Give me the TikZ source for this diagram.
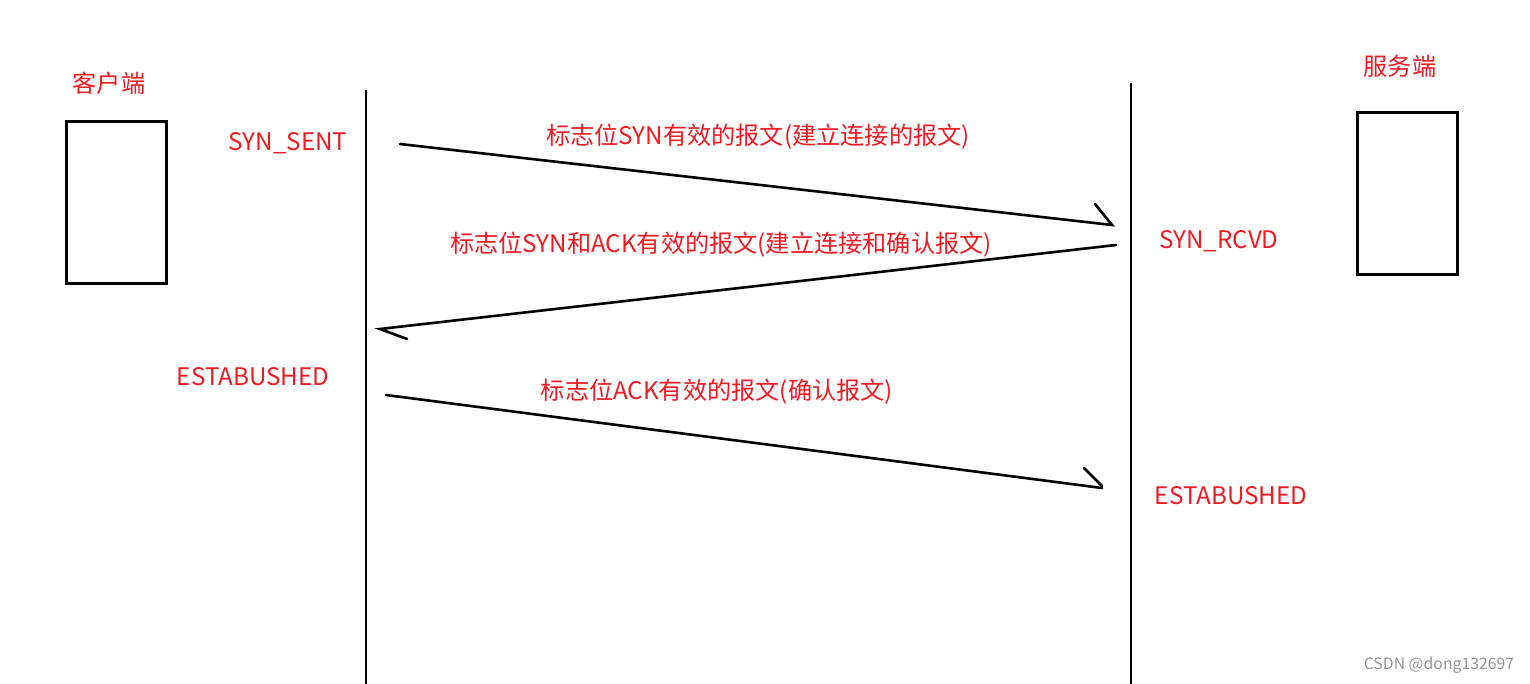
\documentclass[tikz,border=0pt]{standalone}
\usepackage{fontspec}
\setmainfont{Noto Sans CJK SC}
\definecolor{lbl}{RGB}{237,28,36}
\definecolor{wm}{RGB}{150,150,150}
\begin{document}
\begin{tikzpicture}[x=0.5pt,y=-0.5pt,
  lbl/.style={text=lbl,font=\fontsize{12.1pt}{14pt}\selectfont,inner sep=0pt,anchor=center},
  box/.style={draw=black,line width=1.5pt,minimum width=50pt,minimum height=80.5pt,inner sep=0pt},
  life/.style={line width=1.4pt},
  msg/.style={line width=1.3pt,line cap=round}]
\useasboundingbox (0,0) rectangle (1530,684);
\fill[white] (0,0) rectangle (1530,684);
% titles and boxes
\node[lbl] (client) at (109,83) {客户端};
\node[lbl] (server) at (1400,66) {服务端};
\node[box] (cbox) at (116,202.5) {};
\node[box] (sbox) at (1407.5,193.5) {};
% lifelines
\coordinate (ltop) at (366,90);
\coordinate (lbot) at (366,684);
\coordinate (rtop) at (1131,83);
\coordinate (rbot) at (1131,684);
\draw[life] (ltop) -- (lbot);
\draw[life] (rtop) -- (rbot);
% states
\node[lbl] (synsent) at (288,143) {SYN\_SENT};
\node[lbl] (synrcvd) at (1219,241) {SYN\_RCVD};
\node[lbl] (estc) at (253,377) {ESTABUSHED};
\node[lbl] (ests) at (1231,496) {ESTABUSHED};
% message 1
\coordinate (m1s) at (400,144);
\coordinate (m1e) at (1112,225);
\coordinate (m1b) at (1095,204);
\draw[msg] (m1s) -- (m1e) -- (m1b);
\node[lbl] (t1) at (758,137) {标志位SYN有效的报文(建立连接的报文)};
% message 2
\coordinate (m2s) at (1116,245);
\coordinate (m2e) at (380,329);
\coordinate (m2b) at (407,339);
\draw[msg] (m2s) -- (m2e) -- (m2b);
\node[lbl] (t2) at (721,245) {标志位SYN和ACK有效的报文(建立连接和确认报文)};
% message 3
\coordinate (m3s) at (386,395);
\coordinate (m3e) at (1102,488);
\coordinate (m3b) at (1084,468);
\draw[msg] (m3s) -- (m3e);
\draw[msg] (m3b) -- (1102,486);
\node[lbl] (t3) at (717,392) {标志位ACK有效的报文(确认报文)};
% watermark
\node[text=wm,font=\fontsize{7.9pt}{9pt}\selectfont,inner sep=0pt] (wmk) at (1439,665) {CSDN @dong132697};
\end{tikzpicture}
\end{document}
